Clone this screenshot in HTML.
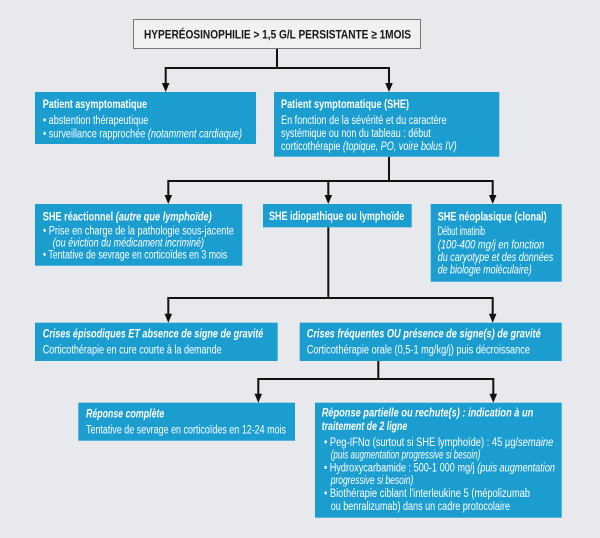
<!DOCTYPE html>
<html><head><meta charset="utf-8"><style>
html,body{margin:0;padding:0;background:#e8e9ed;}
svg{display:block;}
text{font-family:"Liberation Sans Narrow","Liberation Sans",sans-serif;}
.w{fill:#fff;font-size:11.5px;}
.b{font-weight:bold;}
.i{font-style:italic;}
</style></head><body>
<svg width="600" height="538" viewBox="0 0 600 538" xmlns="http://www.w3.org/2000/svg">
<rect x="0" y="0" width="600" height="538" fill="#e8e9ed"/>

<!-- connectors -->
<g stroke="#111" stroke-width="2" fill="none">
<path d="M277 49 V68 M165.7 68 H389 M165.7 67 V84 M389 67 V84"/>
<path d="M389 156.7 V181 M168.3 181 H492.7 M168.3 180 V196 M328.3 180 V196 M492.7 180 V196"/>
<path d="M328.3 227.3 V298 M168.3 298 H492.7 M168.3 297 V314.7 M492.7 297 V314.7"/>
<path d="M378.3 361 V379 M258.3 379 H493.3 M258.3 378 V394.7 M493.3 378 V394.7"/>
</g>
<g fill="#111">
<polygon points="161.9,83 169.5,83 165.7,92"/>
<polygon points="385.2,83 392.8,83 389,92"/>
<polygon points="164.5,195 172.1,195 168.3,204"/>
<polygon points="324.5,195 332.1,195 328.3,204"/>
<polygon points="488.9,195 496.5,195 492.7,204"/>
<polygon points="164.5,313.7 172.1,313.7 168.3,322.7"/>
<polygon points="488.9,313.7 496.5,313.7 492.7,322.7"/>
<polygon points="254.5,393.7 262.1,393.7 258.3,402.7"/>
<polygon points="489.5,393.7 497.1,393.7 493.3,402.7"/>
</g>

<!-- top box -->
<rect x="133.5" y="19.5" width="287" height="29" fill="#f1f1f2" stroke="#777" stroke-width="1"/>
<text x="144" y="38.5" font-size="12" font-weight="bold" fill="#151515" textLength="267" lengthAdjust="spacingAndGlyphs">HYPERÉOSINOPHILIE &gt; 1,5 G/L PERSISTANTE ≥ 1MOIS</text>

<!-- blue boxes -->
<g fill="#1b9dd0">
<rect x="35" y="92" width="221" height="52"/>
<rect x="274" y="92" width="225.3" height="64.7"/>
<rect x="35" y="204" width="207.3" height="61.7"/>
<rect x="263" y="204" width="148.7" height="23.3"/>
<rect x="430.7" y="204" width="131" height="77.7"/>
<rect x="35" y="322.7" width="242.7" height="38.3"/>
<rect x="299.7" y="322.7" width="262" height="38.3"/>
<rect x="78.3" y="402.7" width="216.7" height="38"/>
<rect x="315" y="402.7" width="246.7" height="115"/>
</g>

<!-- box A -->
<text class="w b" x="42.7" y="108" textLength="104.3" lengthAdjust="spacingAndGlyphs">Patient asymptomatique</text>
<text class="w" x="43" y="124" textLength="105.3" lengthAdjust="spacingAndGlyphs">• abstention thérapeutique</text>
<text class="w" x="43" y="137.7" textLength="199" lengthAdjust="spacingAndGlyphs">• surveillance rapprochée <tspan class="i">(notamment cardiaque)</tspan></text>

<!-- box B -->
<text class="w b" x="281" y="108" textLength="128" lengthAdjust="spacingAndGlyphs">Patient symptomatique (SHE)</text>
<text class="w" x="281" y="124" textLength="165.7" lengthAdjust="spacingAndGlyphs">En fonction de la sévérité et du caractère</text>
<text class="w" x="281" y="137" textLength="149.7" lengthAdjust="spacingAndGlyphs">systémique ou non du tableau : début</text>
<text class="w" x="281" y="150" textLength="175.7" lengthAdjust="spacingAndGlyphs">corticothérapie <tspan class="i">(topique, PO, voire bolus IV)</tspan></text>

<!-- box C -->
<text class="w b" x="42.7" y="220.7" textLength="169" lengthAdjust="spacingAndGlyphs">SHE réactionnel <tspan class="i">(autre que lymphoïde)</tspan></text>
<text class="w" x="43" y="234.3" textLength="191" lengthAdjust="spacingAndGlyphs">• Prise en charge de la pathologie sous-jacente</text>
<text class="w i" x="52.7" y="246.3" textLength="151.3" lengthAdjust="spacingAndGlyphs">(ou éviction du médicament incriminé)</text>
<text class="w" x="43" y="258.5" textLength="184.3" lengthAdjust="spacingAndGlyphs">• Tentative de sevrage en corticoïdes en 3 mois</text>

<!-- box D -->
<text class="w b" x="269" y="220" textLength="135.3" lengthAdjust="spacingAndGlyphs">SHE idiopathique ou lymphoïde</text>

<!-- box E -->
<text class="w b" x="437.7" y="220.7" textLength="109" lengthAdjust="spacingAndGlyphs">SHE néoplasique (clonal)</text>
<text class="w" x="437.7" y="235" textLength="47.3" lengthAdjust="spacingAndGlyphs">Début imatinib</text>
<text class="w i" x="437.7" y="248.5" textLength="106.6" lengthAdjust="spacingAndGlyphs">(100-400 mg/j en fonction</text>
<text class="w i" x="437.7" y="261.2" textLength="115.6" lengthAdjust="spacingAndGlyphs">du caryotype et des données</text>
<text class="w i" x="437.7" y="273.5" textLength="94" lengthAdjust="spacingAndGlyphs">de biologie moléculaire)</text>

<!-- box F -->
<text class="w b i" x="42.7" y="337.3" textLength="220.6" lengthAdjust="spacingAndGlyphs">Crises épisodiques ET absence de signe de gravité</text>
<text class="w" x="42.7" y="353.3" textLength="179" lengthAdjust="spacingAndGlyphs">Corticothérapie en cure courte à la demande</text>

<!-- box G -->
<text class="w b i" x="306.7" y="337.3" textLength="234" lengthAdjust="spacingAndGlyphs">Crises fréquentes OU présence de signe(s) de gravité</text>
<text class="w" x="306.7" y="353.3" textLength="223.3" lengthAdjust="spacingAndGlyphs">Corticothérapie orale (0,5-1 mg/kg/j) puis décroissance</text>

<!-- box H -->
<text class="w b i" x="86" y="417.7" textLength="78.3" lengthAdjust="spacingAndGlyphs">Réponse complète</text>
<text class="w" x="86" y="433.3" textLength="200" lengthAdjust="spacingAndGlyphs">Tentative de sevrage en corticoïdes en 12-24 mois</text>

<!-- box I -->
<text class="w b i" x="321.7" y="416.7" textLength="211.6" lengthAdjust="spacingAndGlyphs">Réponse partielle ou rechute(s) : indication à un</text>
<text class="w b i" x="321.7" y="430" textLength="85.6" lengthAdjust="spacingAndGlyphs">traitement de 2 ligne</text>
<text class="w" x="324" y="446" textLength="229.3" lengthAdjust="spacingAndGlyphs">• Peg-IFNα (surtout si SHE lymphoïde) : 45 µg/<tspan class="i">semaine</tspan></text>
<text class="w i" x="330.7" y="458.5" textLength="149.6" lengthAdjust="spacingAndGlyphs">(puis augmentation progressive si besoin)</text>
<text class="w" x="324" y="471.5" textLength="231" lengthAdjust="spacingAndGlyphs">• Hydroxycarbamide : 500-1 000 mg/j <tspan class="i">(puis augmentation</tspan></text>
<text class="w i" x="330.7" y="484" textLength="82.6" lengthAdjust="spacingAndGlyphs">progressive si besoin)</text>
<text class="w" x="324" y="497" textLength="206" lengthAdjust="spacingAndGlyphs">• Biothérapie ciblant l'interleukine 5 (mépolizumab</text>
<text class="w" x="330.7" y="510" textLength="179.3" lengthAdjust="spacingAndGlyphs">ou benralizumab) dans un cadre protocolaire</text>
</svg>
</body></html>
